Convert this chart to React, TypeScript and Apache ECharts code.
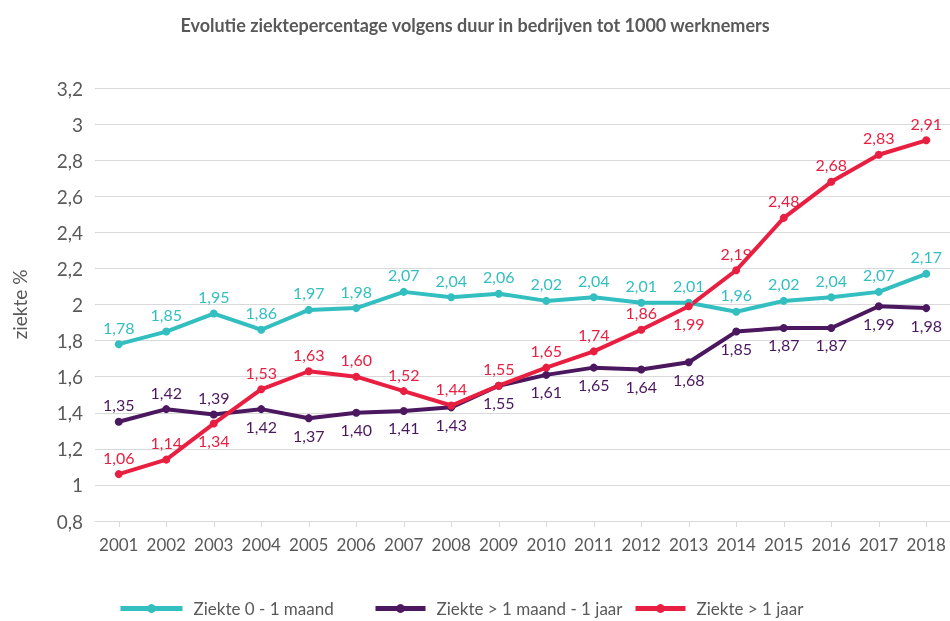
import React, { useEffect, useRef } from "react";
import * as echarts from "echarts";

const years = ["2001","2002","2003","2004","2005","2006","2007","2008","2009","2010","2011","2012","2013","2014","2015","2016","2017","2018"];
const shortTerm = [1.78,1.85,1.95,1.86,1.97,1.98,2.07,2.04,2.06,2.02,2.04,2.01,2.01,1.96,2.02,2.04,2.07,2.17];
const midTerm = [1.35,1.42,1.39,1.42,1.37,1.40,1.41,1.43,1.55,1.61,1.65,1.64,1.68,1.85,1.87,1.87,1.99,1.98];
const longTerm = [1.06,1.14,1.34,1.53,1.63,1.60,1.52,1.44,1.55,1.65,1.74,1.86,1.99,2.19,2.48,2.68,2.83,2.91];
const seriesNames = ["Ziekte 0 - 1 maand", "Ziekte > 1 maand - 1 jaar", "Ziekte > 1 jaar"];
const colors = ["#33bec0", "#4b175f", "#e81f41"];
const midBelowFrom = 3;
const longBelowIdx = [2, 12];

const FONT = "Lato";
const GRAY = "#595959";

const fmt = (v: number) => v.toFixed(2).replace(".", ",");

export default function App() {
  const ref = useRef<HTMLDivElement>(null);
  useEffect(() => {
    if (!ref.current) return;
    const chart = echarts.init(ref.current, undefined, { renderer: "svg" });
    const lbl = (color: string, pos: string) => ({
      show: true,
      position: pos,
      distance: 5,
      color,
      fontFamily: FONT,
      fontSize: 16,
      formatter: (p: any) => fmt(p.value),
    });
    const mkData = (vals: number[], color: string, posFn: (i: number) => string) =>
      vals.map((v, i) => ({ value: v, label: lbl(color, posFn(i)) }));
    const lineSeries = (name: string, color: string, data: any[]) => ({
      name,
      type: "line",
      data,
      symbol: "circle",
      symbolSize: 8,
      lineStyle: { width: 4, color },
      itemStyle: { color },
      z: 3,
    });
    const legendAt = (name: string, left: number, w: number) => ({
      top: 600,
      left,
      padding: 0,
      itemWidth: w,
      itemHeight: 11,
      itemGap: 0,
      lineStyle: { width: 5 },
      textStyle: { fontFamily: FONT, fontSize: 17, color: GRAY, padding: [0, 0, 0, 6] },
      data: [name],
    });
    chart.setOption({
      animation: false,
      title: {
        text: "Evolutie ziektepercentage volgens duur in bedrijven tot 1000 werknemers",
        left: "center",
        top: 11,
        textStyle: { fontFamily: FONT, fontSize: 18, fontWeight: "bold", color: GRAY },
      },
      grid: { left: 95, top: 88, width: 860, height: 433 },
      legend: [
        legendAt(seriesNames[0], 118, 62),
        legendAt(seriesNames[1], 373, 50),
        legendAt(seriesNames[2], 633, 50),
      ],
      xAxis: {
        type: "category",
        data: years,
        boundaryGap: true,
        axisLine: { lineStyle: { color: "#d9d9d9", width: 1 } },
        axisTick: { show: true, alignWithLabel: true, length: 6, lineStyle: { color: "#d9d9d9" } },
        axisLabel: { fontFamily: FONT, fontSize: 17, color: GRAY, margin: 15, interval: 0 },
      },
      yAxis: {
        type: "value",
        min: 0.8,
        max: 3.2,
        interval: 0.2,
        name: "ziekte %",
        nameLocation: "middle",
        nameGap: 66,
        nameTextStyle: { fontFamily: FONT, fontSize: 19, color: GRAY },
        axisLine: { show: false },
        axisTick: { show: false },
        splitLine: { lineStyle: { color: "#d9d9d9", width: 1 } },
        axisLabel: {
          fontFamily: FONT,
          fontSize: 19,
          color: GRAY,
          margin: 12,
          formatter: (v: number) => String(Math.round(v * 10) / 10).replace(".", ","),
        },
      },
      series: [
        lineSeries(seriesNames[0], colors[0], mkData(shortTerm, colors[0], () => "top")),
        lineSeries(seriesNames[1], colors[1], mkData(midTerm, colors[1], (i) => (i < midBelowFrom ? "top" : "bottom"))),
        lineSeries(seriesNames[2], colors[2], mkData(longTerm, colors[2], (i) => (longBelowIdx.includes(i) ? "bottom" : "top"))),
      ],
    });
    return () => chart.dispose();
  }, []);
  return <div ref={ref} style={{ position: "fixed", left: 0, top: 0, width: 950, height: 621 }} />;
}
